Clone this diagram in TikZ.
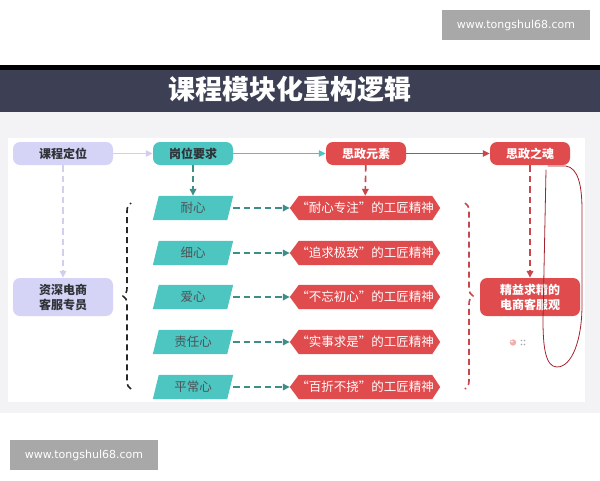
\documentclass[tikz,border=0pt]{standalone}
\usepackage{fontspec}
\setmainfont{Noto Sans CJK SC}
\newfontfamily\wmfont{DejaVu Sans}
\usetikzlibrary{arrows.meta,decorations.pathreplacing,backgrounds}
\pgfdeclarelayer{bottom}
\pgfsetlayers{bottom,background,main}
\definecolor{lav}{HTML}{D6D4F6}
\definecolor{lavline}{HTML}{D2CFEE}
\definecolor{tealc}{HTML}{4DC5C1}
\definecolor{tealdash}{HTML}{3E8E88}
\definecolor{redc}{HTML}{E04B4D}
\definecolor{reddash}{HTML}{C8474C}
\definecolor{banner}{HTML}{3D4055}
\definecolor{bgray}{HTML}{F3F3F6}
\definecolor{wmgray}{HTML}{A8A8A8}
\definecolor{hand}{HTML}{A2232E}
\definecolor{darktxt}{HTML}{2F3338}
\tikzset{
  box/.style={rounded corners=7pt, minimum width=100pt, minimum height=23pt, inner sep=2pt, font=\fontsize{12}{15}\selectfont\bfseries, align=center},
  lavbox/.style={box, fill=lav, text=darktxt},
  tealbox/.style={box, fill=tealc, minimum width=80pt, text=darktxt},
  redbox/.style={box, fill=redc, minimum width=80pt, text=white},
  parabox/.style={minimum width=80pt, minimum height=24pt, inner sep=0pt, font=\fontsize{12.5}{14}\selectfont, text=darktxt!85},
  hexbox/.style={minimum width=150pt, minimum height=24pt, inner sep=0pt, font=\fontsize{12.5}{14}\selectfont, text=white},
  wm/.style={fill=wmgray, text=white, minimum width=148pt, minimum height=30pt, inner sep=0pt, font=\wmfont\fontsize{11}{13}\selectfont},
  solidarrow/.style={line width=1.4pt, -{Triangle[length=7pt,width=6.5pt]}},
  dasharrow/.style={line width=1.6pt, dash pattern=on 6.5pt off 4pt, -{Triangle[length=7pt,width=6.5pt]}},
  bracestyle/.style={line width=1.6pt, dash pattern=on 6pt off 4pt, decorate, decoration={brace, amplitude=8pt}},
}
\begin{document}
\begin{tikzpicture}[x=1pt,y=-1pt]
\useasboundingbox (0,0) rectangle (600,480);
\begin{pgfonlayer}{bottom}
\fill[white] (0,0) rectangle (600,480);
\fill[bgray] (0,112) rectangle (600,413);
\fill[white] (8,138) rectangle (585,402);
\end{pgfonlayer}
% watermarks
\node[wm] (wmtop) at (516,25) {www.tongshul68.com};
\node[wm] (wmbot) at (84,455) {www.tongshul68.com};
% header
\fill[black] (0,65) rectangle (600,70);
\fill[banner] (0,70) rectangle (600,112);
\node[text=white, font=\fontsize{27}{30}\selectfont\bfseries] (title) at (290,89) {课程模块化重构逻辑};
% top row
\node[lavbox] (kc) at (63,153.5) {课程定位};
\node[tealbox] (gw) at (193,153.5) {岗位要求};
\node[redbox] (ys) at (366,153.5) {思政元素};
\node[redbox] (zh) at (530,153.5) {思政之魂};
\node[lavbox, minimum height=38pt] (zs) at (63,297) {资深电商\\客服专员};
\node[redbox, minimum width=100pt, minimum height=38pt] (jy) at (530,297) {精益求精的\\电商客服观};
% parallelograms and hexagons
\foreach \i/\t/\s/\y in {1/耐心/耐心专注/208, 2/细心/追求极致/253, 3/爱心/不忘初心/297, 4/责任心/实事求是/342, 5/平常心/百折不挠/387}{
  \node[parabox] (p\i) at (193,\y) {\t};
  \node[hexbox] (r\i) at (365,\y) {“\s”的工匠精神};
  \begin{scope}[on background layer]
    \fill[tealc] (p\i.south west) -- ([xshift=-6pt]p\i.south east) -- (p\i.north east) -- ([xshift=6pt]p\i.north west) -- cycle;
    \fill[redc] (r\i.west) -- ([xshift=9pt]r\i.north west) -- ([xshift=-8pt]r\i.north east) -- (r\i.east) -- ([xshift=-8pt]r\i.south east) -- ([xshift=9pt]r\i.south west) -- cycle;
  \end{scope}
  \draw[dasharrow, tealdash] (p\i.east) -- (r\i.west);
}
% top connectors
\draw[solidarrow, lavline] (kc) -- (gw);
\draw[solidarrow, tealc] (gw) -- (ys);
\draw[solidarrow, reddash] (ys) -- (zh);
\draw[dasharrow, lavline] (kc) -- (zs);
\draw[dasharrow, tealdash] (gw) -- (p1);
\draw[dasharrow, reddash] (ys) -- (r1);
\draw[dasharrow, reddash] (zh) -- (jy);
% braces
\coordinate (lb1) at (131,389);
\coordinate (lb2) at (131,203);
\coordinate (rb1) at (465,203);
\coordinate (rb2) at (465,389);
\draw[bracestyle, black!85] (lb1) -- (lb2);
\draw[bracestyle, reddash] (rb1) -- (rb2);
% hand drawn loop
\draw[hand, line width=0.8pt, line cap=round, line join=round] (548,166) -- (566,166) .. controls (578,168) and (582,185) .. (582,210) -- (582,305) .. controls (582,340) and (572,367) .. (557,367) .. controls (545,367) and (543,345) .. (543,320) -- (546,170);
% small icon
\fill[redc!45] (513,342.5) circle (3.2pt);
\fill[white] (512,341.5) circle (1pt);
\foreach \dx/\dy in {0/0,3/0,0/4,3/4}{\fill[gray!70] (521.5+\dx,340.5+\dy) circle (0.8pt);}
\end{tikzpicture}
\end{document}
